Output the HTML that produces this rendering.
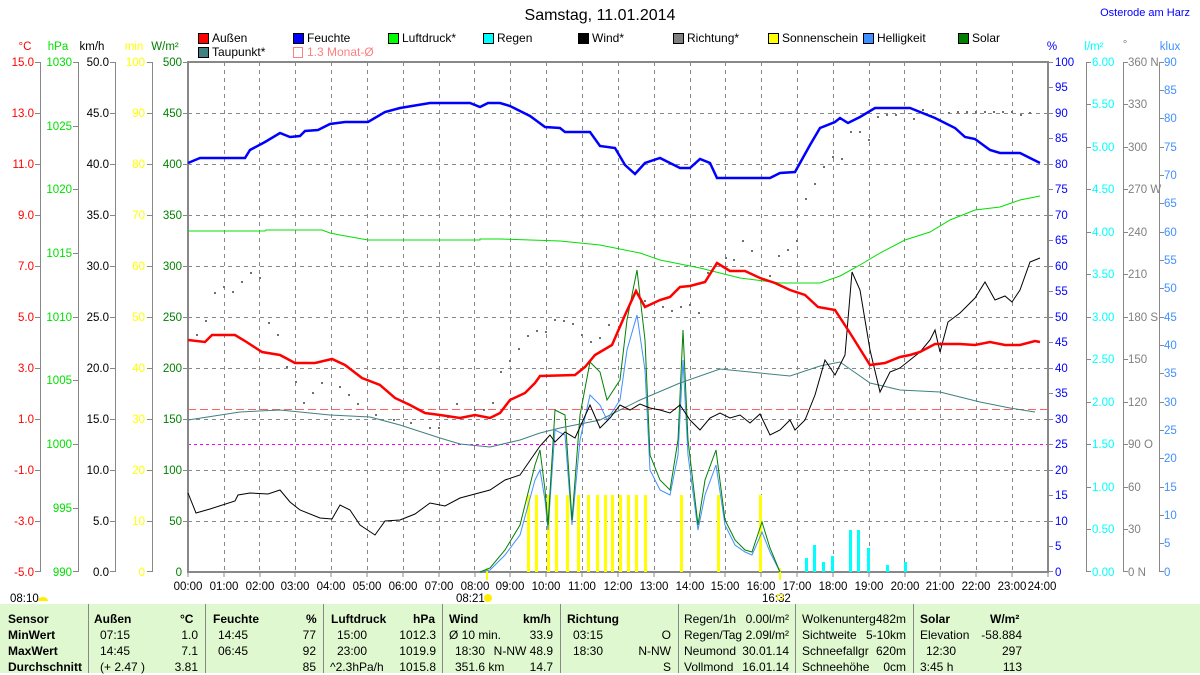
<!DOCTYPE html>
<html><head><meta charset="utf-8"><style>
body{margin:0;width:1200px;height:673px;overflow:hidden;background:#fff;font-family:"Liberation Sans",sans-serif}
svg{position:absolute;left:0;top:0}
.tb{position:absolute;left:0;top:604px;width:1200px;height:69px;background:#e0f8d0}
.c{position:absolute;font-size:12px;line-height:16px;white-space:nowrap;color:#000}
.b{font-weight:bold}
.sep{position:absolute;top:604px;width:1px;height:69px;background:#888}
</style></head><body>
<svg width="1200" height="673" font-family="Liberation Sans, sans-serif" font-size="11.5">
<text x="600" y="20" font-size="16" text-anchor="middle">Samstag, 11.01.2014</text>
<text x="1190" y="16" font-size="11" text-anchor="end" fill="#0000ff">Osterode am Harz</text>
<!-- legend -->
<g stroke="#000" stroke-width="1">
<rect x="198.5" y="33.5" width="10" height="10" fill="#ff0000"/>
<rect x="293.5" y="33.5" width="10" height="10" fill="#0000ff"/>
<rect x="388.5" y="33.5" width="10" height="10" fill="#00ff00"/>
<rect x="483.5" y="33.5" width="10" height="10" fill="#00ffff"/>
<rect x="578.5" y="33.5" width="10" height="10" fill="#000000"/>
<rect x="673.5" y="33.5" width="10" height="10" fill="#808080"/>
<rect x="768.5" y="33.5" width="10" height="10" fill="#ffff00"/>
<rect x="863.5" y="33.5" width="10" height="10" fill="#4090ff"/>
<rect x="958.5" y="33.5" width="10" height="10" fill="#008000"/>
<rect x="198.5" y="47.5" width="10" height="10" fill="#408080"/>
</g>
<rect x="293.5" y="47.5" width="9" height="10" fill="none" stroke="#ff8080"/>
<g font-size="12">
<text x="212" y="42">Außen</text><text x="307" y="42">Feuchte</text><text x="402" y="42">Luftdruck*</text>
<text x="497" y="42">Regen</text><text x="592" y="42">Wind*</text><text x="687" y="42">Richtung*</text>
<text x="782" y="42">Sonnenschein</text><text x="877" y="42">Helligkeit</text><text x="972" y="42">Solar</text>
<text x="212" y="56">Taupunkt*</text><text x="307" y="56" fill="#ff8080">1.3 Monat-Ø</text>
</g>
<!-- axis headers -->
<text x="25" y="50" fill="#ff0000" text-anchor="middle">°C</text>
<text x="58" y="50" fill="#00e000" text-anchor="middle">hPa</text>
<text x="92" y="50" text-anchor="middle">km/h</text>
<text x="134" y="50" fill="#ffff00" text-anchor="middle">min</text>
<text x="165" y="50" fill="#008000" text-anchor="middle">W/m²</text>
<text x="1052" y="50" fill="#0000ff" text-anchor="middle">%</text>
<text x="1094" y="50" fill="#00ffff" text-anchor="middle">l/m²</text>
<text x="1125" y="48" fill="#808080" text-anchor="middle">°</text>
<text x="1170" y="50" fill="#4090ff" text-anchor="middle">klux</text>
<!-- grid -->
<g stroke="#888" stroke-dasharray="4 4" stroke-width="1">
<path d="M188 113.5H1048M188 164.5H1048M188 215.5H1048M188 266.5H1048M188 317.5H1048M188 368.5H1048M188 419.5H1048M188 470.5H1048M188 521.5H1048"/>
<path d="M224.5 62V572M259.5 62V572M295.5 62V572M331.5 62V572M367.5 62V572M403.5 62V572M439.5 62V572M474.5 62V572M510.5 62V572M546.5 62V572M582.5 62V572M618.5 62V572M654.5 62V572M690.5 62V572M725.5 62V572M761.5 62V572M797.5 62V572M833.5 62V572M869.5 62V572M904.5 62V572M940.5 62V572M976.5 62V572M1012.5 62V572"/>
</g>
<path d="M188 409.5H1048" stroke="#ff6060" stroke-dasharray="8 4"/>
<path d="M188 444.5H1048" stroke="#ff00ff" stroke-dasharray="3 3"/>
<rect x="188" y="62" width="860" height="510" fill="none" stroke="#888" stroke-width="2"/>
<!-- axis lines -->
<g stroke="#888" stroke-width="1">
<path d="M40.5 62V572M78.5 62V572M115.5 62V572M152.5 62V572M1086.5 62V572M1123.5 62V572M1159.5 62V572"/>
<path d="M35 62.5h6M35 113.5h6M35 164.5h6M35 215.5h6M35 266.5h6M35 317.5h6M35 368.5h6M35 419.5h6M35 470.5h6M35 521.5h6M35 571.5h6"/>
<path d="M73 62.5h6M73 126.5h6M73 189.5h6M73 253.5h6M73 317.5h6M73 380.5h6M73 444.5h6M73 508.5h6M73 571.5h6"/>
<path d="M110 62.5h6M110 113.5h6M110 164.5h6M110 215.5h6M110 266.5h6M110 317.5h6M110 368.5h6M110 419.5h6M110 470.5h6M110 521.5h6M110 571.5h6"/>
<path d="M147 62.5h6M147 113.5h6M147 164.5h6M147 215.5h6M147 266.5h6M147 317.5h6M147 368.5h6M147 419.5h6M147 470.5h6M147 521.5h6M147 571.5h6"/>
<path d="M183 62.5h6M183 113.5h6M183 164.5h6M183 215.5h6M183 266.5h6M183 317.5h6M183 368.5h6M183 419.5h6M183 470.5h6M183 521.5h6"/>
<path d="M1048 62.5h5M1048 87.5h5M1048 113.5h5M1048 138.5h5M1048 164.5h5M1048 189.5h5M1048 215.5h5M1048 240.5h5M1048 266.5h5M1048 291.5h5M1048 317.5h5M1048 342.5h5M1048 368.5h5M1048 393.5h5M1048 419.5h5M1048 444.5h5M1048 470.5h5M1048 495.5h5M1048 521.5h5M1048 546.5h5M1048 571.5h5"/>
<path d="M1086 62.5h5M1086 104.5h5M1086 147.5h5M1086 189.5h5M1086 232.5h5M1086 274.5h5M1086 317.5h5M1086 359.5h5M1086 402.5h5M1086 444.5h5M1086 487.5h5M1086 529.5h5M1086 571.5h5"/>
<path d="M1123 62.5h5M1123 104.5h5M1123 147.5h5M1123 189.5h5M1123 232.5h5M1123 274.5h5M1123 317.5h5M1123 359.5h5M1123 402.5h5M1123 444.5h5M1123 487.5h5M1123 529.5h5M1123 571.5h5"/>
<path d="M1159 62.5h5M1159 90.5h5M1159 118.5h5M1159 147.5h5M1159 175.5h5M1159 203.5h5M1159 232.5h5M1159 260.5h5M1159 288.5h5M1159 317.5h5M1159 345.5h5M1159 373.5h5M1159 402.5h5M1159 430.5h5M1159 458.5h5M1159 487.5h5M1159 515.5h5M1159 543.5h5M1159 571.5h5"/>
<path d="M188 572v5M224 572v5M260 572v5M295 572v5M331 572v5M367 572v5M403 572v5M439 572v5M475 572v5M510 572v5M546 572v5M582 572v5M618 572v5M654 572v5M690 572v5M725 572v5M761 572v5M797 572v5M833 572v5M869 572v5M905 572v5M940 572v5M976 572v5M1012 572v5M1048 572v5"/>
</g>
<!-- left labels -->
<g fill="#ff0000" text-anchor="end">
<text x="34" y="66">15.0</text><text x="34" y="117">13.0</text><text x="34" y="168">11.0</text><text x="34" y="219">9.0</text><text x="34" y="270">7.0</text><text x="34" y="321">5.0</text><text x="34" y="372">3.0</text><text x="34" y="423">1.0</text><text x="34" y="474">-1.0</text><text x="34" y="525">-3.0</text><text x="34" y="576">-5.0</text></g>
<g fill="#00e000" text-anchor="end">
<text x="72" y="66">1030</text><text x="72" y="130">1025</text><text x="72" y="193">1020</text><text x="72" y="257">1015</text><text x="72" y="321">1010</text><text x="72" y="384">1005</text><text x="72" y="448">1000</text><text x="72" y="512">995</text><text x="72" y="576">990</text></g>
<g fill="#000" text-anchor="end">
<text x="109" y="66">50.0</text><text x="109" y="117">45.0</text><text x="109" y="168">40.0</text><text x="109" y="219">35.0</text><text x="109" y="270">30.0</text><text x="109" y="321">25.0</text><text x="109" y="372">20.0</text><text x="109" y="423">15.0</text><text x="109" y="474">10.0</text><text x="109" y="525">5.0</text><text x="109" y="576">0.0</text></g>
<g fill="#ffff00" text-anchor="end">
<text x="145" y="66">100</text><text x="145" y="117">90</text><text x="145" y="168">80</text><text x="145" y="219">70</text><text x="145" y="270">60</text><text x="145" y="321">50</text><text x="145" y="372">40</text><text x="145" y="423">30</text><text x="145" y="474">20</text><text x="145" y="525">10</text><text x="145" y="576">0</text></g>
<g fill="#008000" text-anchor="end">
<text x="182" y="66">500</text><text x="182" y="117">450</text><text x="182" y="168">400</text><text x="182" y="219">350</text><text x="182" y="270">300</text><text x="182" y="321">250</text><text x="182" y="372">200</text><text x="182" y="423">150</text><text x="182" y="474">100</text><text x="182" y="525">50</text><text x="182" y="576">0</text></g>
<!-- right labels -->
<g fill="#0000ff">
<text x="1055" y="66">100</text><text x="1055" y="91">95</text><text x="1055" y="117">90</text><text x="1055" y="142">85</text><text x="1055" y="168">80</text><text x="1055" y="193">75</text><text x="1055" y="219">70</text><text x="1055" y="244">65</text><text x="1055" y="270">60</text><text x="1055" y="295">55</text><text x="1055" y="321">50</text><text x="1055" y="346">45</text><text x="1055" y="372">40</text><text x="1055" y="397">35</text><text x="1055" y="423">30</text><text x="1055" y="448">25</text><text x="1055" y="474">20</text><text x="1055" y="499">15</text><text x="1055" y="525">10</text><text x="1055" y="550">5</text><text x="1055" y="576">0</text></g>
<g fill="#00ffff">
<text x="1092" y="66">6.00</text><text x="1092" y="108">5.50</text><text x="1092" y="151">5.00</text><text x="1092" y="193">4.50</text><text x="1092" y="236">4.00</text><text x="1092" y="278">3.50</text><text x="1092" y="321">3.00</text><text x="1092" y="363">2.50</text><text x="1092" y="406">2.00</text><text x="1092" y="448">1.50</text><text x="1092" y="491">1.00</text><text x="1092" y="533">0.50</text><text x="1092" y="576">0.00</text></g>
<g fill="#808080">
<text x="1128" y="66">360 N</text><text x="1128" y="108">330</text><text x="1128" y="151">300</text><text x="1128" y="193">270 W</text><text x="1128" y="236">240</text><text x="1128" y="278">210</text><text x="1128" y="321">180 S</text><text x="1128" y="363">150</text><text x="1128" y="406">120</text><text x="1128" y="448">90 O</text><text x="1128" y="491">60</text><text x="1128" y="533">30</text><text x="1128" y="576">0 N</text></g>
<g fill="#4090ff">
<text x="1164" y="66">90</text><text x="1164" y="94">85</text><text x="1164" y="122">80</text><text x="1164" y="151">75</text><text x="1164" y="179">70</text><text x="1164" y="207">65</text><text x="1164" y="236">60</text><text x="1164" y="264">55</text><text x="1164" y="292">50</text><text x="1164" y="321">45</text><text x="1164" y="349">40</text><text x="1164" y="377">35</text><text x="1164" y="406">30</text><text x="1164" y="434">25</text><text x="1164" y="462">20</text><text x="1164" y="491">15</text><text x="1164" y="519">10</text><text x="1164" y="547">5</text><text x="1164" y="576">0</text></g>
<!-- x labels -->
<g text-anchor="middle">
<text x="188" y="590">00:00</text><text x="224" y="590">01:00</text><text x="260" y="590">02:00</text><text x="295" y="590">03:00</text><text x="331" y="590">04:00</text><text x="367" y="590">05:00</text><text x="403" y="590">06:00</text><text x="439" y="590">07:00</text><text x="475" y="590">08:00</text><text x="510" y="590">09:00</text><text x="546" y="590">10:00</text><text x="582" y="590">11:00</text><text x="618" y="590">12:00</text><text x="654" y="590">13:00</text><text x="690" y="590">14:00</text><text x="725" y="590">15:00</text><text x="761" y="590">16:00</text><text x="797" y="590">17:00</text><text x="833" y="590">18:00</text><text x="869" y="590">19:00</text><text x="905" y="590">20:00</text><text x="940" y="590">21:00</text><text x="976" y="590">22:00</text><text x="1012" y="590">23:00</text><text x="1042" y="590">24:00</text>
</g>
<text x="10" y="602">08:10</text><path d="M38 601a5 4 0 0 1 10 0z" fill="#ffee00"/>
<text x="456" y="602">08:21</text><circle cx="488" cy="598" r="4" fill="#ffee00"/>
<text x="762" y="602">16:32</text><rect x="777.5" y="594.5" width="5" height="5" fill="none" stroke="#ffee00"/>
<!-- sunshine bars -->
<g fill="#ffff00">
<rect x="527" y="495" width="3" height="77"/><rect x="535" y="495" width="3" height="77"/><rect x="547" y="495" width="3" height="77"/><rect x="555" y="495" width="3" height="77"/><rect x="566" y="495" width="3" height="77"/><rect x="577" y="495" width="3" height="77"/><rect x="587" y="495" width="3" height="77"/><rect x="596" y="495" width="3" height="77"/><rect x="604" y="495" width="3" height="77"/><rect x="611" y="495" width="3" height="77"/><rect x="619" y="495" width="3" height="77"/><rect x="627" y="495" width="3" height="77"/><rect x="635" y="495" width="3" height="77"/><rect x="644" y="495" width="3" height="77"/><rect x="680" y="495" width="3" height="77"/><rect x="717" y="495" width="3" height="77"/><rect x="759" y="495" width="3" height="77"/><rect x="486" y="568" width="2" height="12"/><rect x="779" y="568" width="2" height="12"/>
</g>
<!-- rain bars -->
<g fill="#00ffff">
<rect x="805" y="558" width="3" height="14"/><rect x="813" y="545" width="3" height="27"/><rect x="822" y="562" width="3" height="10"/><rect x="831" y="556" width="3" height="16"/><rect x="849" y="530" width="3" height="42"/><rect x="857" y="530" width="3" height="42"/><rect x="867" y="548" width="3" height="24"/><rect x="886" y="565" width="3" height="7"/><rect x="904" y="562" width="3" height="10"/>
</g>
<!-- direction dots -->
<g fill="#707070">
<rect x="214" y="292" width="2" height="2"/><rect x="223" y="286" width="2" height="2"/><rect x="232" y="291" width="2" height="2"/><rect x="241" y="281" width="2" height="2"/><rect x="250" y="272" width="2" height="2"/><rect x="259" y="277" width="2" height="2"/><rect x="205" y="320" width="2" height="2"/><rect x="196" y="334" width="2" height="2"/><rect x="268" y="322" width="2" height="2"/><rect x="277" y="334" width="2" height="2"/><rect x="286" y="366" width="2" height="2"/><rect x="295" y="381" width="2" height="2"/><rect x="303" y="402" width="2" height="2"/><rect x="312" y="392" width="2" height="2"/><rect x="321" y="382" width="2" height="2"/><rect x="339" y="386" width="2" height="2"/><rect x="348" y="394" width="2" height="2"/><rect x="357" y="403" width="2" height="2"/><rect x="375" y="414" width="2" height="2"/><rect x="393" y="419" width="2" height="2"/><rect x="410" y="422" width="2" height="2"/><rect x="429" y="427" width="2" height="2"/><rect x="438" y="427" width="2" height="2"/><rect x="447" y="416" width="2" height="2"/><rect x="456" y="403" width="2" height="2"/><rect x="474" y="409" width="2" height="2"/><rect x="483" y="409" width="2" height="2"/><rect x="492" y="402" width="2" height="2"/><rect x="500" y="371" width="2" height="2"/><rect x="509" y="360" width="2" height="2"/><rect x="518" y="348" width="2" height="2"/><rect x="527" y="335" width="2" height="2"/><rect x="536" y="330" width="2" height="2"/><rect x="545" y="331" width="2" height="2"/><rect x="554" y="319" width="2" height="2"/><rect x="563" y="320" width="2" height="2"/><rect x="572" y="323" width="2" height="2"/><rect x="581" y="334" width="2" height="2"/><rect x="590" y="341" width="2" height="2"/><rect x="599" y="337" width="2" height="2"/><rect x="608" y="324" width="2" height="2"/>
<rect x="644" y="300" width="2" height="2"/><rect x="662" y="306" width="2" height="2"/><rect x="671" y="310" width="2" height="2"/><rect x="680" y="306" width="2" height="2"/><rect x="689" y="304" width="2" height="2"/><rect x="698" y="312" width="2" height="2"/><rect x="707" y="272" width="2" height="2"/><rect x="725" y="257" width="2" height="2"/><rect x="733" y="259" width="2" height="2"/><rect x="742" y="240" width="2" height="2"/><rect x="751" y="250" width="2" height="2"/><rect x="769" y="275" width="2" height="2"/><rect x="778" y="255" width="2" height="2"/><rect x="787" y="249" width="2" height="2"/><rect x="796" y="240" width="2" height="2"/><rect x="805" y="198" width="2" height="2"/><rect x="814" y="183" width="2" height="2"/><rect x="823" y="166" width="2" height="2"/><rect x="832" y="156" width="2" height="2"/><rect x="841" y="158" width="2" height="2"/><rect x="850" y="131" width="2" height="2"/><rect x="859" y="131" width="2" height="2"/><rect x="868" y="139" width="2" height="2"/><rect x="877" y="116" width="2" height="2"/><rect x="886" y="114" width="2" height="2"/><rect x="895" y="114" width="2" height="2"/><rect x="913" y="118" width="2" height="2"/><rect x="922" y="109" width="2" height="2"/><rect x="930" y="115" width="2" height="2"/><rect x="948" y="112" width="2" height="2"/><rect x="957" y="111" width="2" height="2"/><rect x="966" y="111" width="2" height="2"/><rect x="975" y="111" width="2" height="2"/><rect x="984" y="111" width="2" height="2"/><rect x="993" y="111" width="2" height="2"/><rect x="1002" y="111" width="2" height="2"/><rect x="1011" y="111" width="2" height="2"/><rect x="1020" y="114" width="2" height="2"/><rect x="1029" y="112" width="2" height="2"/>
</g>
<!-- solar / helligkeit -->
<polyline fill="none" stroke="#4090ff" stroke-width="1" points="480,572 490,570 505,555 520,535 535,480 540,470 545,500 548,530 555,430 565,435 572,525 580,440 590,395 600,405 607,420 620,400 627,350 637,315 645,370 650,470 660,490 670,495 678,455 683,360 688,455 698,530 705,495 716,465 725,525 735,545 745,552 752,555 762,532 770,552 780,572"/>
<polyline fill="none" stroke="#008000" stroke-width="1" points="480,572 490,568 505,550 520,525 535,465 540,450 545,490 548,525 555,410 565,415 572,520 580,415 590,362 600,372 607,400 620,380 627,320 637,270 645,340 650,455 660,480 670,490 678,440 683,330 688,440 698,525 705,480 716,450 725,520 735,540 745,550 752,552 762,522 770,548 780,572"/>
<!-- pressure -->
<polyline fill="none" stroke="#00e000" stroke-width="1" points="188,231 265,231 266,230 322,230 330,233 340,235 368,240 480,240 480,239 500,239 560,241 600,245 640,253 660,260 700,268 740,278 780,283 820,283 840,276 860,265 880,253 905,240 930,232 950,220 975,210 1000,207 1020,200 1040,196"/>
<!-- dew point -->
<polyline fill="none" stroke="#408080" stroke-width="1" points="188,420 240,412 280,410 330,415 370,417 400,425 440,438 460,444 490,447 520,440 540,433 560,428 600,420 640,400 680,383 720,369 760,373 790,376 820,366 840,362 870,383 900,390 940,392 980,402 1010,408 1035,412"/>
<!-- wind -->
<polyline fill="none" stroke="#000" stroke-width="1" points="188,493 196,513 210,509 235,501 238,495 250,493 268,494 280,490 290,502 300,510 320,518 332,519 340,505 350,510 360,525 375,535 385,521 400,520 415,514 430,503 445,506 460,498 475,494 490,490 505,480 520,475 540,446 550,435 555,442 565,432 575,438 590,405 600,428 610,418 620,405 630,410 640,404 650,408 660,410 670,413 680,405 690,420 700,430 710,418 720,413 730,418 740,415 750,423 760,414 770,435 780,430 790,420 795,430 805,420 815,395 825,360 835,375 845,355 852,272 860,290 870,350 880,392 890,372 900,368 910,360 920,352 930,340 935,330 940,352 948,322 960,313 975,298 985,282 995,300 1005,296 1012,302 1020,290 1030,262 1040,258"/>
<!-- humidity -->
<polyline fill="none" stroke="#0000ff" stroke-width="2.5" points="188,163 200,158 245,158 250,150 265,142 280,133 290,137 300,136 305,131 318,130 330,124 345,122 368,122 385,112 400,108 430,103 470,103 480,107 488,103 500,103 510,106 530,116 545,127 560,128 565,132 590,132 600,146 615,148 625,165 635,174 645,163 660,158 680,168 690,168 700,159 710,163 717,178 770,178 780,173 795,172 810,145 820,128 835,122 840,118 848,123 860,117 875,108 910,108 935,118 955,128 965,137 975,139 990,150 1000,153 1020,153 1030,158 1040,163"/>
<!-- temperature -->
<polyline fill="none" stroke="#ff0000" stroke-width="2.5" points="188,340 205,342 212,335 235,335 245,341 262,352 280,355 295,363 315,363 332,359 345,365 362,378 380,385 395,398 410,405 425,413 440,415 460,418 475,415 490,418 500,413 510,400 525,393 535,383 540,376 575,375 585,367 595,355 612,345 625,315 636,291 645,307 660,300 670,297 680,287 690,286 705,282 717,263 730,271 745,271 760,278 775,283 790,290 805,295 818,307 835,310 850,333 870,365 885,363 900,357 910,355 920,352 935,344 960,344 975,345 990,342 1005,345 1020,345 1035,341 1040,342"/>
</svg>
<div class="tb"></div>
<div class="sep" style="left:88px"></div><div class="sep" style="left:205px"></div><div class="sep" style="left:323px"></div><div class="sep" style="left:442px"></div><div class="sep" style="left:560px"></div><div class="sep" style="left:678px"></div><div class="sep" style="left:795px"></div><div class="sep" style="left:913px"></div>
<div class="c b" style="left:8px;top:611px">Sensor<br>MinWert<br>MaxWert<br>Durchschnitt</div>
<div class="c b" style="left:94px;top:611px">Außen</div><div class="c b" style="left:180px;top:611px">°C</div>
<div class="c" style="left:100px;top:627px">07:15<br>14:45<br>(+ 2.47 )</div>
<div class="c" style="right:1002px;top:627px;text-align:right">1.0<br>7.1<br>3.81</div>
<div class="c b" style="left:213px;top:611px">Feuchte</div><div class="c b" style="left:306px;top:611px">%</div>
<div class="c" style="left:218px;top:627px">14:45<br>06:45</div>
<div class="c" style="right:884px;top:627px;text-align:right">77<br>92<br>85</div>
<div class="c b" style="left:331px;top:611px">Luftdruck</div><div class="c b" style="left:413px;top:611px">hPa</div>
<div class="c" style="left:337px;top:627px">15:00<br>23:00</div><div class="c" style="left:330px;top:659px">^2.3hPa/h</div>
<div class="c" style="right:764px;top:627px;text-align:right">1012.3<br>1019.9<br>1015.8</div>
<div class="c b" style="left:449px;top:611px">Wind</div><div class="c b" style="left:523px;top:611px">km/h</div>
<div class="c" style="left:449px;top:627px">Ø 10 min.</div><div class="c" style="left:455px;top:643px">18:30<br>351.6 km</div>
<div class="c" style="right:647px;top:627px;text-align:right">33.9<br>N-NW 48.9<br>14.7</div>
<div class="c b" style="left:567px;top:611px">Richtung</div>
<div class="c" style="left:573px;top:627px">03:15<br>18:30</div>
<div class="c" style="right:529px;top:627px;text-align:right">O<br>N-NW<br>S</div>
<div class="c" style="left:684px;top:611px">Regen/1h<br>Regen/Tag<br>Neumond<br>Vollmond</div>
<div class="c" style="right:411px;top:611px;text-align:right">0.00l/m²<br>2.09l/m²<br>30.01.14<br>16.01.14</div>
<div class="c" style="left:802px;top:611px">Wolkenunterg<br>Sichtweite<br>Schneefallgr<br>Schneehöhe</div>
<div class="c" style="right:294px;top:611px;text-align:right">482m<br>5-10km<br>620m<br>0cm</div>
<div class="c b" style="left:920px;top:611px">Solar</div><div class="c b" style="left:990px;top:611px">W/m²</div>
<div class="c" style="left:920px;top:627px">Elevation</div><div class="c" style="left:926px;top:643px">12:30</div><div class="c" style="left:920px;top:659px">3:45 h</div>
<div class="c" style="right:178px;top:627px;text-align:right">-58.884<br>297<br>113</div>
</body></html>
